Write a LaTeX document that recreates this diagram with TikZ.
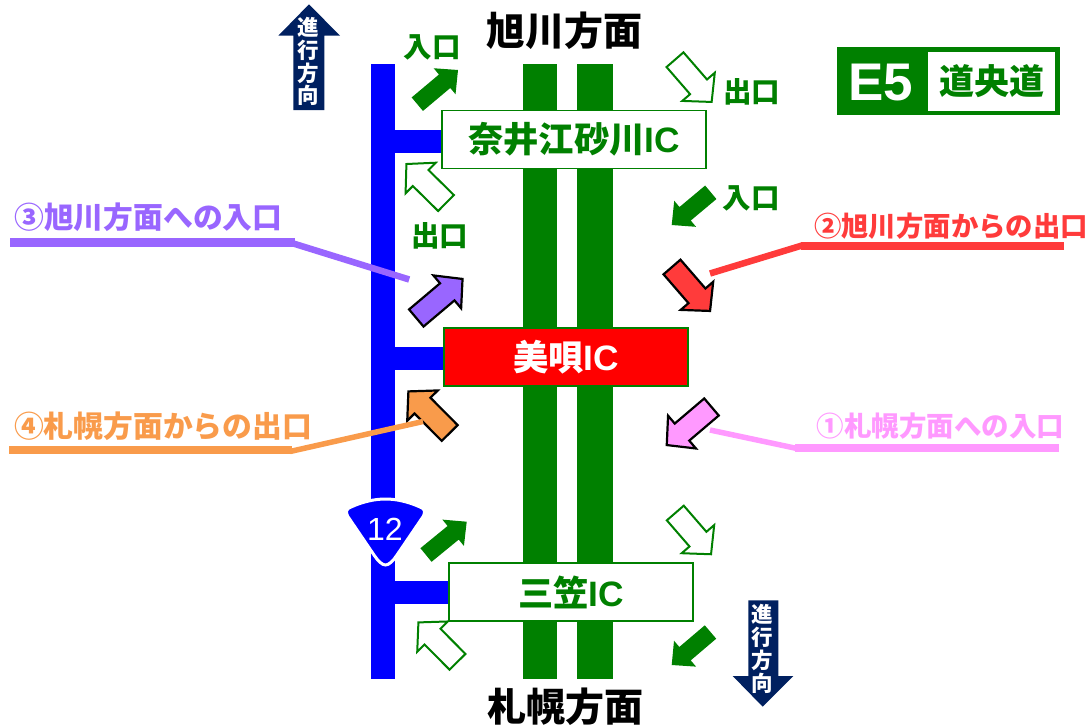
\documentclass[tikz,border=0pt]{standalone}
\usepackage{fontspec}
\usetikzlibrary{calc}
\newfontfamily\jp{Noto Sans CJK JP}
\newfontfamily\lat{Liberation Sans}
\definecolor{rdgreen}{HTML}{008000}
\definecolor{rdblue}{HTML}{0000FF}
\definecolor{navy}{HTML}{002060}
\definecolor{lpurple}{HTML}{9966FF}
\definecolor{lorange}{HTML}{F99B4B}
\definecolor{lred}{HTML}{FF3B3B}
\definecolor{lpink}{HTML}{FF99FF}
\newcommand{\fsz}[1]{\fontsize{#1}{#1}\selectfont}
\newcommand{\roadarrow}[7]{%
  \coordinate (tl) at (#2); \coordinate (tp) at ($(#3)!#7pt!(#2)$);
  \coordinate (hb) at ($(tp)!#6pt!(tl)$);
  \draw[#1] ($(tl)!#4pt!90:(tp)$) -- ($(hb)!#4pt!90:(tp)$) -- ($(hb)!#5pt!90:(tp)$) -- (tp)
     -- ($(hb)!#5pt!-90:(tp)$) -- ($(hb)!#4pt!-90:(tp)$) -- ($(tl)!#4pt!-90:(tp)$) -- cycle;}
\newcommand{\narrowarrow}[3]{\roadarrow{#1}{#2}{#3}{8.8}{17}{17.5}{0}}
\newcommand{\widearrow}[3]{\roadarrow{#1}{#2}{#3}{11.2}{21.5}{20}{1}}
\tikzset{
  x=1pt,y=-1pt,
  mainroad/.style={rdgreen,line width=#1,line cap=butt},
  localroad/.style={rdblue,line width=24pt},
  branch/.style={rdblue,line width=23pt},
  icbox/.style={draw=rdgreen,line width=1.6pt,fill=white,minimum width=#1,minimum height=58pt,inner sep=0pt,
     text=rdgreen,font=\jp\bfseries\fsz{35.3}},
  filledgreen/.style={fill=rdgreen,draw=none},
  opengreen/.style={fill=white,draw=rdgreen,line width=2pt,miter limit=10},
  keyarrow/.style={fill=#1,draw=black,line width=2.2pt,miter limit=10},
  gate/.style={inner sep=0pt,text=rdgreen,font=\jp\bfseries\fsz{28.5}},
  dirtext/.style={inner sep=0pt,text=black,font=\jp\bfseries\fsz{39}},
  keytext/.style={inner sep=0pt,text=#1},
  keyline/.style={draw=#1,line cap=butt,line join=bevel},
  travel/.style={inner sep=0pt,text=white,align=center,font=\jp\bfseries\fontsize{21.5}{22.8}\selectfont},
}
\begin{document}
\begin{tikzpicture}
\useasboundingbox (0,0) rectangle (1087,726);
% roads
\coordinate (lt) at (383,64); \coordinate (lb) at (383,679);
\draw[localroad] (lt) -- (lb);
\coordinate (e1t) at (540,64); \coordinate (e1b) at (540,679);
\coordinate (e2t) at (595,64); \coordinate (e2b) at (595,679);
\draw[mainroad=34pt] (e1t) -- (e1b);
\draw[mainroad=36pt] (e2t) -- (e2b);
% interchange boxes
\node[icbox=264pt] (ic1) at (574,139.5) {\raisebox{-1.5pt}{奈井江砂川{\lat\bfseries IC}}};
\node[icbox=244pt,fill=red,text=white] (ic2) at (566,357) {\raisebox{-1.5pt}{美唄{\lat\bfseries IC}}};
\node[icbox=244pt] (ic3) at (571,592) {\raisebox{-1.5pt}{三笠{\lat\bfseries IC}}};
\coordinate (j1) at (383,141.5); \coordinate (j2) at (383,358); \coordinate (j3) at (383,592);
\draw[branch] (j1) -- (ic1.west |- j1);
\draw[branch] (j2) -- (ic2.west |- j2);
\draw[branch] (j3) -- (ic3.west |- j3);
% direction labels
\node[dirtext] (north) at (564,31) {旭川方面};
\node[dirtext] (south) at (565,707) {札幌方面};
% travel direction arrows
\fill[navy] (293.3,110) -- (293.3,35.7) -- (278.3,35.7) -- (309,4.3) -- (340,35.7) -- (324.3,35.7) -- (324.3,110) -- cycle;
\node[travel] (up) at (308.5,61.5) {進\\行\\方\\向};
\fill[navy] (748.3,600.3) -- (748.3,676) -- (732.7,676) -- (762.7,706.7) -- (793.3,676) -- (778.3,676) -- (778.3,600.3) -- cycle;
\node[travel] (down) at (762,649) {進\\行\\方\\向};
% E5 sign
\node[fill=rdgreen,minimum width=223pt,minimum height=68pt,inner sep=0pt] (sign) at (948.5,81) {};
\node[fill=white,minimum width=127pt,minimum height=59pt,inner sep=0pt,text=rdgreen,font=\jp\bfseries\fsz{35}] (signname) at (991.5,81.3) {道央道};
\node[inner sep=0pt,text=white,font=\lat\bfseries\fsz{53}] (signno) at (881,83) {E5};
% entrance and exit arrows
\narrowarrow{filledgreen}{417.3,104.2}{458,70}
\widearrow{opengreen}{446,203}{405.7,163.3}
\widearrow{opengreen}{675,59.7}{712.3,102.7}
\narrowarrow{filledgreen}{710.8,192.3}{671.7,225}
\narrowarrow{filledgreen}{426,555}{466.7,521.7}
\widearrow{opengreen}{457.5,661.8}{417.7,621.7}
\widearrow{opengreen}{675.3,513}{711.7,555}
\narrowarrow{filledgreen}{710.5,632}{671.7,665}
\widearrow{keyarrow=lpurple}{416.3,318}{463.3,278.3}
\widearrow{keyarrow=lred}{672,267}{710.7,311.7}
\widearrow{keyarrow=lorange}{449.7,433}{407.7,390.7}
\widearrow{keyarrow=lpink}{711.5,407}{666,445.7}
% gate labels
\node[gate] (g1) at (432,47.5) {入口};
\node[gate] (g2) at (439.5,235.5) {出口};
\node[gate] (g3) at (751.5,92) {出口};
\node[gate] (g4) at (751,198) {入口};
% route 12 shield
\draw[fill=rdblue,draw=white,line width=3pt] (347.5,516) .. controls (345,511) and (347,508.5) .. (351,507)
  .. controls (362,502) and (374,499) .. (385.5,499) .. controls (397,499) and (409,502) .. (420,507)
  .. controls (424,508.5) and (426,511) .. (423.5,516) -- (397,555) .. controls (393,561) and (389,565) .. (385.5,565)
  .. controls (382,565) and (378,561) .. (374,555) -- cycle;
\node[inner sep=0pt,text=white,font=\lat\fsz{32}] (r12) at (385,529.5) {12};
% key labels and leaders
\node[keytext=lpurple,font=\jp\bfseries\fsz{29.8}] (k3) at (148.5,217) {③旭川方面への入口};
\node[keytext=lorange,font=\jp\bfseries\fsz{29.8}] (k4) at (163,426.5) {④札幌方面からの出口};
\node[keytext=lred,font=\jp\bfseries\fsz{27.4}] (k2) at (951,226) {②旭川方面からの出口};
\node[keytext=lpink,font=\jp\bfseries\fsz{27.5}] (k1) at (940.5,426) {①札幌方面への入口};
\coordinate (a3) at (10,242.3); \coordinate (b3) at (295,242.3); \coordinate (c3) at (292.7,243.3); \coordinate (d3) at (409.2,279.5);
\draw[keyline=lpurple,line width=8.5pt] (a3) -- (b3);
\draw[keyline=lpurple,line width=6.5pt] (c3) -- (d3);
\coordinate (a4) at (9,450); \coordinate (b4) at (292,450); \coordinate (c4) at (290,451.5); \coordinate (d4) at (423,421.5);
\draw[keyline=lorange,line width=8pt] (a4) -- (b4);
\draw[keyline=lorange,line width=5.5pt] (c4) -- (d4);
\coordinate (a2) at (1064,246); \coordinate (b2) at (801,246); \coordinate (c2) at (802,245.5); \coordinate (d2) at (710,273.5);
\draw[keyline=lred,line width=8pt] (a2) -- (b2);
\draw[keyline=lred,line width=6.5pt] (c2) -- (d2);
\coordinate (a1) at (1059,448); \coordinate (b1) at (795,448); \coordinate (c1) at (797,448.5); \coordinate (d1) at (710,430);
\draw[keyline=lpink,line width=7.7pt] (a1) -- (b1);
\draw[keyline=lpink,line width=5.5pt] (c1) -- (d1);
\end{tikzpicture}
\end{document}
